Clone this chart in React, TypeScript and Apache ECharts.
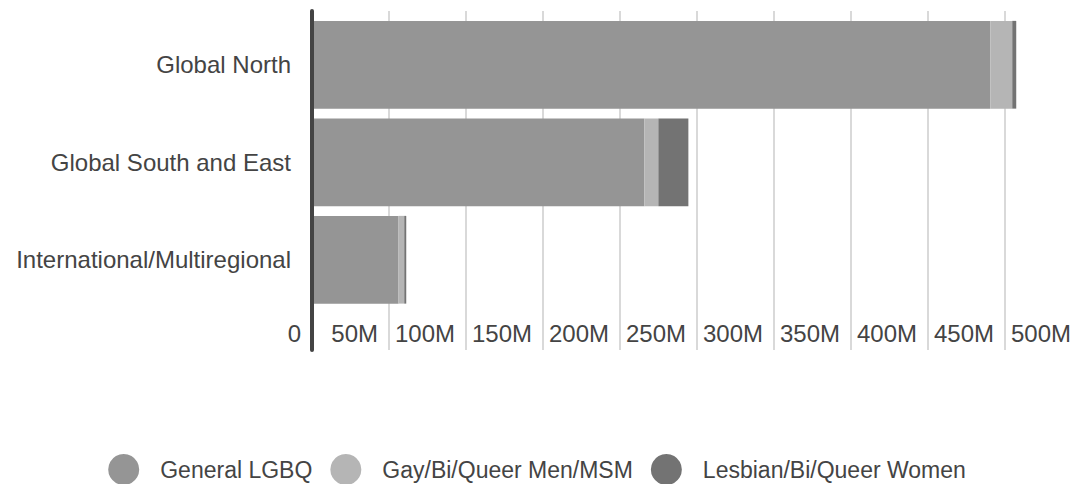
import React, { useEffect, useRef } from "react";
import * as echarts from "echarts";

const categories = ["Global North", "Global South and East", "International/Multiregional"];
const seriesNames = ["General LGBQ", "Gay/Bi/Queer Men/MSM", "Lesbian/Bi/Queer Women"];
// values in millions (USD)
const generalLGBQ = [440.5, 215.8, 56.2];
const gayBiQueerMen = [14.2, 9.1, 3.7];
const lesbianBiQueerWomen = [2.6, 19.5, 1.3];
const colors = ["#959595", "#b5b5b5", "#737373"];

const FONT = "'Liberation Sans', Arial, sans-serif";

export default function App() {
  const ref = useRef<HTMLDivElement>(null);
  useEffect(() => {
    if (!ref.current) return;
    const chart = echarts.init(ref.current, undefined, { renderer: "svg" });
    const values = [generalLGBQ, gayBiQueerMen, lesbianBiQueerWomen];
    chart.setOption({
      animation: false,
      textStyle: { fontFamily: FONT },
      grid: [
        { left: 312, width: 770, top: 16, height: 292.5, outerBoundsMode: "none", containLabel: false },
        { left: 312, width: 770, top: 11, height: 339, outerBoundsMode: "none", containLabel: false },
      ],
      xAxis: [
        { type: "value", gridIndex: 0, min: 0, max: 500, interval: 50, show: false },
        {
          type: "value",
          gridIndex: 1,
          min: 0,
          max: 500,
          interval: 50,
          axisLine: { show: false },
          axisTick: { show: false },
          splitLine: { show: true, lineStyle: { color: "#d9d9d9", width: 2 } },
          axisLabel: {
            inside: true,
            margin: 5,
            align: "right",
            padding: [0, 11, 0, 0],
            fontSize: 24,
            color: "#444",
            fontFamily: FONT,
            formatter: (v: number) => (v === 0 ? "0" : `${v}M`),
          },
        },
      ],
      yAxis: [
        {
          type: "category",
          gridIndex: 0,
          inverse: true,
          data: categories,
          axisLine: { show: false },
          axisTick: { show: false },
          axisLabel: { fontSize: 24, color: "#444", margin: 21, fontFamily: FONT },
        },
        {
          type: "value",
          gridIndex: 1,
          z: 10,
          axisLine: { show: true, onZero: false, lineStyle: { color: "#444", width: 4 } },
          axisTick: { show: false },
          axisLabel: { show: false },
          splitLine: { show: false },
        },
      ],
      legend: {
        data: seriesNames,
        left: "center",
        top: 449,
        icon: "circle",
        itemWidth: 31,
        itemHeight: 31,
        itemGap: 18,
        textStyle: { fontSize: 23, color: "#444", fontFamily: FONT, padding: [0, 0, 0, 16] },
      },
      series: seriesNames.map((name, i) => ({
        name,
        type: "bar",
        stack: "total",
        xAxisIndex: 0,
        yAxisIndex: 0,
        barCategoryGap: "10%",
        itemStyle: { color: colors[i] },
        data: values[i],
      })),
    });
    return () => chart.dispose();
  }, []);
  return (
    <div
      ref={ref}
      style={{ position: "absolute", left: 0, top: 0, width: 1074, height: 484, background: "#fff" }}
    />
  );
}
